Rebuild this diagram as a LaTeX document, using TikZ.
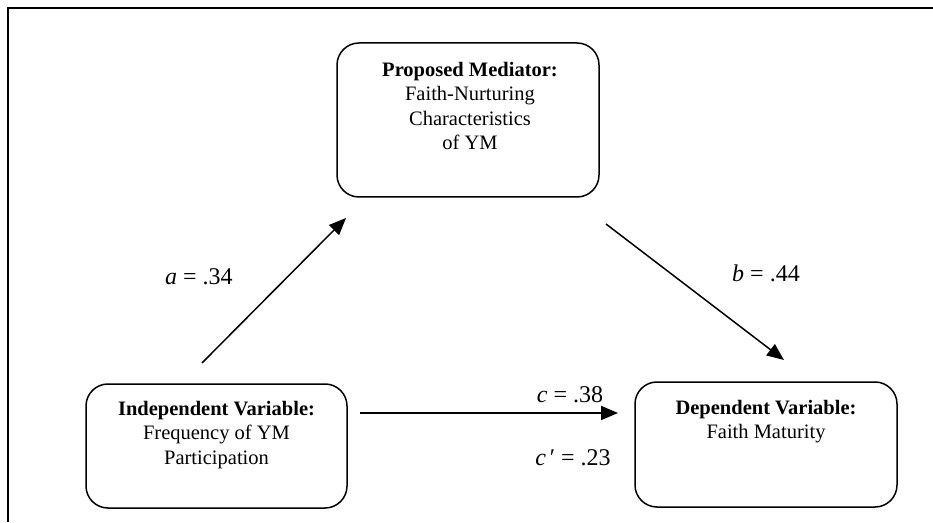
\documentclass[tikz,border=0pt]{standalone}
\usepackage{fontspec}
\setmainfont{Liberation Serif}
\usetikzlibrary{arrows.meta}

\tikzset{
  varbox/.style={draw, line width=1.5pt, rounded corners=22pt, inner sep=0pt},
  boxtext/.style={align=center, anchor=north, inner sep=0pt,
    font=\fontsize{20.5}{24.3}\selectfont},
  coef/.style={inner sep=0pt, font=\fontsize{24}{28}\selectfont},
  path arrow/.style={line width=1.5pt, -{Triangle[length=17pt,width=14pt]}},
}

\begin{document}
\begin{tikzpicture}[x=1pt,y=1pt]
  \useasboundingbox (0,0) rectangle (933,522);
  \fill[white] (0,0) rectangle (933,522);

  % open frame: top and left rules only
  \draw[line width=2pt] (8,0) -- (8,514) -- (933,514);

  % the three variables
  \node[varbox, minimum width=262pt, minimum height=154pt] (med) at (468,402) {};
  \node[varbox, minimum width=261pt, minimum height=124pt] (iv) at (216.5,76) {};
  \node[varbox, minimum width=262pt, minimum height=125pt] (dv) at (766,77.5) {};

  \node[boxtext] (medtext) at (470,460)
    {\textbf{Proposed Mediator:}\\Faith-Nurturing\\Characteristics\\of YM};
  \node[boxtext] (ivtext) at (216.5,121)
    {\textbf{Independent Variable:}\\Frequency of YM\\Participation};
  \node[boxtext] (dvtext) at (766,122)
    {\textbf{Dependent Variable:}\\Faith Maturity};

  % path end points
  \coordinate (aS) at (202,159);
  \coordinate (aE) at (346,304);
  \coordinate (bS) at (606,298);
  \coordinate (bE) at (784,162);
  \coordinate (cS) at (360,109);
  \coordinate (cE) at (618,109);

  \draw[path arrow] (aS) -- (aE);
  \draw[path arrow] (bS) -- (bE);
  \draw[path arrow, line width=2pt] (cS) -- (cE);

  % path coefficients
  \node[coef] (alab) at (199,245) {\textit{a} = .34};
  \node[coef] (blab) at (766,249) {\textit{b} = .44};
  \node[coef] (clab) at (570,127) {\textit{c} = .38};
  \node[coef] (cplab) at (573,64) {\textit{c}\,′ = .23};
\end{tikzpicture}
\end{document}
